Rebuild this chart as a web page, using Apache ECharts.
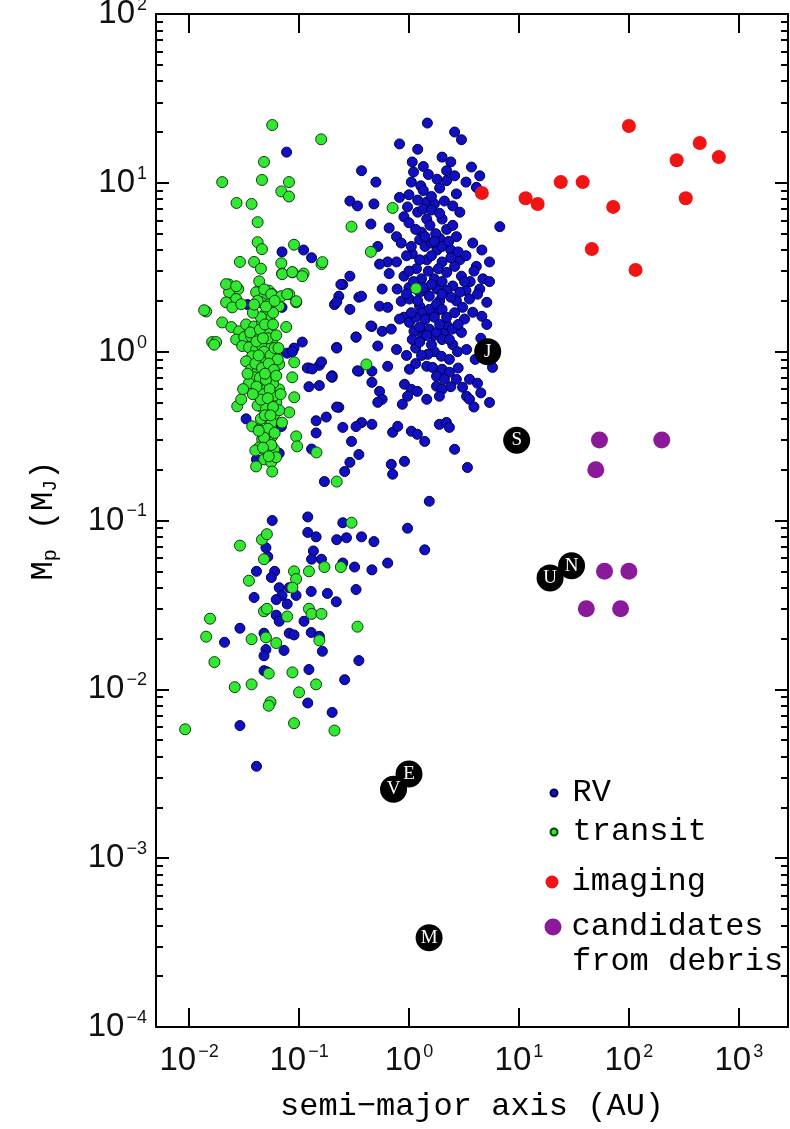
<!DOCTYPE html>
<html><head><meta charset="utf-8">
<script src="https://cdn.jsdelivr.net/npm/echarts@6/dist/echarts.min.js"></script>
<style>html,body{margin:0;padding:0;background:#fff}#c{width:790px;height:1129px}</style>
</head><body><div id="c"></div>
<script>
// ---- data: [semi-major axis (AU), planet mass (MJ)] ----
const rvData = [
[1.47,22.6],[2.6,20],[3.0,18],[0.82,17],[1.2,15.8],[0.37,11.8],[1.07,13.3],[1.1,11.6],[2.4,13.3],[2.2,11.8],[3.7,12.4],[4.4,11.0],[1.5,11.2],[1.8,10.5],[1.05,10.1],[1.28,9.6],[2.2,10.3],[3.3,10.1],[4.1,9.4],[0.5,10.1],[0.29,7.8],[0.34,7.3],[0.48,7.5],[0.82,8.2],[0.97,7.2],[1.45,7.7],[1.7,7.5],[2.1,7.8],[2.5,7.3],[2.9,6.7],[1.2,6.7],[0.9,6.3],[6.7,5.5],[0.66,5.4],[2.0,6.1],[2.2,5.3],[1.45,6.1],[1.3,5.1],[0.77,4.8],[0.85,4.4],[0.45,5.7],[0.52,4.2],[3.8,4.4],[4.6,4.0],[2.7,4.8],[1.9,4.7],[1.8,4.0],[1.07,3.8],[1.45,3.5],[0.64,3.4],[0.77,3.4],[2.9,3.5],[3.3,3.7],[4.1,3.2],[5.4,3.4],[0.54,3.3],[0.95,3.7],[0.25,2.5],[0.66,2.9],[0.9,2.8],[1.17,3.1],[1.5,3.0],[2.2,2.95],[4.7,2.7],[5.4,2.6],[0.35,2.1],[0.57,2.35],[0.78,2.35],[1.8,2.35],[2.5,2.45],[3.3,2.3],[4.4,2.35],
[1.2,7.9],[1.35,7.0],[1.6,6.9],[1.9,6.6],[1.55,5.6],[1.75,5.0],[1.25,4.6],[1.4,4.2],[1.6,4.4],[2.0,4.2],[2.4,4.0],[2.6,3.2],[2.0,3.4],[1.3,2.7],[1.7,2.7],[2.0,2.6],[3.0,2.8],[3.6,2.6],[3.9,3.0],
[1.0,5.8],[1.15,5.3],[1.4,4.8],[1.7,4.5],[2.3,4.5],[2.5,5.6],[1.05,4.2],[1.25,3.5],[1.6,3.7],[1.85,3.1],[2.4,3.6],[2.8,3.9],[1.0,3.0],[1.4,2.3],[1.9,2.0],[2.2,2.3],[2.7,2.0],[3.2,2.6],[1.0,2.4],[0.9,1.6],[1.3,1.35],[1.7,1.25],[2.1,1.3],[1.5,1.7],[1.8,1.75],[1.15,1.05],[1.7,1.0],[2.5,1.1],[1.0,8.5],[1.6,8.3],[2.7,8.6],[1.35,9.0],[1.9,9.3],[2.6,11],[1.35,12.5],[2.0,14.2],
[0.23,2.13],[0.37,2.13],[0.54,1.86],[0.64,1.83],[0.85,1.99],[1.01,2.05],[1.25,2.25],[1.53,2.13],[2.0,2.19],[2.4,2.1],[2.9,2.25],[3.55,2.05],[4.2,2.19],[1.25,1.86],[1.53,1.78],[1.78,1.91],[2.0,1.78],[3.07,1.83],[3.8,1.71],[5.1,1.96],[4.6,1.62],[0.46,1.41],[0.57,1.32],[0.69,1.36],[0.82,1.56],[1.01,1.49],[1.11,1.32],[1.33,1.23],[1.53,1.36],[1.78,1.30],[1.07,1.18],[1.25,1.14],[2.19,1.45],[2.48,1.36],[3.0,1.30],[2.0,1.18],[2.33,1.18],[3.2,1.56],[5.1,1.45],[0.33,1.22],[0.22,1.06],[0.52,1.08],[0.77,1.03],[1.48,0.964],[1.97,0.94],[2.33,0.90],[2.76,1.0],[3.34,1.03],[0.35,0.766],[0.46,0.766],[0.64,0.819],[1.01,0.787],[0.91,0.641],[1.05,0.598],[0.97,0.544],[0.87,0.488],[1.45,0.819],[1.64,0.807],[2.0,0.787],[2.33,0.755],[1.78,0.715],[2.1,0.686],[2.7,0.686],[3.55,0.686],[1.19,0.582],[1.45,0.522],[1.78,0.624],[2.0,0.598],[1.89,0.544],[3.07,0.615],[3.34,0.544],[3.55,0.522],[5.4,0.50],[5.75,0.807],[0.46,0.658],[0.54,0.582],[0.57,0.522],[0.52,0.501],[0.2,0.705],[0.23,0.468],[0.46,0.371],[0.71,0.333],[0.79,0.361],[1.05,0.338],[1.19,0.324],[1.39,0.294],[1.89,0.371],[2.19,0.381],[2.33,0.356],[0.25,0.356],[0.3,0.294],[0.35,0.246],[0.29,0.221],[0.26,0.195],[0.69,0.215],[0.71,0.188],[0.91,0.224],[2.6,0.264],[3.4,0.206],
[1.1,2.6],[1.2,2.0],[1.3,1.7],[1.4,1.55],[1.15,1.6],[1.35,2.4],[1.6,2.5],[1.7,1.6],[1.45,1.25],[1.25,1.4],[1.05,1.7],[0.95,2.2],[1.6,1.1],[1.9,1.45],[2.2,1.6],[2.6,1.7],[2.8,1.45],[1.3,0.95],[1.15,0.85],[0.95,0.95],[2.4,0.62],[2.8,0.8],[4.0,0.9],[4.5,1.2],[4.2,0.65],[3.9,0.47],[4.5,0.57],
[0.97,0.09],[1.39,0.067],[1.53,0.13],[0.17,0.17],
[0.077,15.2],[0.07,3.9],[0.11,4.0],[0.13,3.6],[0.24,2.5],[0.29,2.8],[0.21,1.9],[0.29,1.78],[0.45,1.42],[0.33,1.22],[0.22,1.05],[0.107,1.14],[0.09,1.05],[0.078,0.98],[0.123,0.8],[0.153,0.83],[0.2,0.72],[0.34,0.77],[0.123,0.62],[0.153,0.63],[0.22,0.47],[0.177,0.41],[0.143,0.39],[0.37,0.38],[0.33,0.36],
[0.07,1.83],[0.087,1.0],[0.16,0.87],[0.197,0.71],[0.143,0.33],[0.069,0.36],[0.033,0.40],[0.13,0.265],[0.066,0.25],[0.041,0.23],[0.22,1.97],[0.034,1.9],[0.119,0.8],[0.132,0.79],
[0.057,0.1],[0.12,0.105],[0.25,0.097],[0.12,0.085],[0.143,0.08],[0.22,0.077],[0.27,0.079],[0.37,0.08],[0.48,0.075],[0.64,0.056],[0.46,0.051],[0.32,0.053],[0.25,0.056],[0.16,0.059],[0.135,0.066],[0.13,0.059],[0.05,0.069],[0.052,0.061],[0.041,0.05],[0.06,0.05],[0.056,0.046],[0.066,0.04],[0.07,0.036],[0.062,0.034],[0.039,0.035],[0.0815,0.04],[0.094,0.036],[0.078,0.032],[0.129,0.038],[0.181,0.037],[0.218,0.033],[0.33,0.039],[0.062,0.0275],[0.066,0.0253],[0.0815,0.0215],[0.09,0.021],[0.029,0.023],[0.021,0.019],[0.048,0.0215],[0.05,0.0172],[0.048,0.0158],[0.073,0.017],[0.129,0.0217],[0.153,0.0206],[0.163,0.0168],[0.111,0.0253],[0.132,0.028],[0.35,0.0148],[0.048,0.0129],[0.051,0.0127],[0.123,0.0131],[0.26,0.0114],[0.12,0.0083],[0.2,0.0073],[0.029,0.0061],[0.041,0.0035]
];
const transitData = [
[0.057,22],[0.159,18.1],[0.048,13.3],[0.02,10.1],[0.046,10.4],[0.081,10.1],[0.069,8.9],[0.081,8.3],[0.027,7.6],[0.037,7.5],[0.042,5.85],[0.042,4.45],[0.046,4.05],[0.09,4.3],[0.029,3.4],[0.039,3.4],[0.045,3.1],[0.069,3.34],[0.16,3.3],[0.07,2.9],[0.087,2.95],[0.11,2.9],[0.023,2.5],[0.028,2.35],[0.043,2.3],[0.053,2.3],
[0.71,7.1],[0.3,5.5],[0.45,3.9],[1.16,2.37],[0.41,0.84],[0.22,0.17],
[0.0231,2.25],[0.0268,2.05],[0.0217,1.96],[0.0247,1.83],[0.0298,1.91],[0.0407,2.25],[0.0482,2.13],[0.057,2.19],[0.0453,1.96],[0.0535,1.91],[0.066,1.86],[0.0502,1.71],[0.0815,2.19],[0.0942,1.96],[0.02,1.49],[0.0242,1.40],[0.0285,1.32],[0.033,1.45],[0.0391,1.41],[0.0462,1.49],[0.0535,1.56],[0.0268,1.18],[0.0317,1.22],[0.0367,1.23],[0.0434,1.27],[0.0513,1.30],[0.057,1.14],[0.0162,1.14],[0.0304,1.08],[0.0351,1.06],[0.0407,1.03],[0.0462,1.08],[0.0558,1.06],[0.0619,0.964],[0.0502,0.964],[0.0375,0.94],[0.0434,0.90],[0.033,0.877],[0.0502,0.865],[0.057,0.819],[0.066,0.842],[0.0367,0.787],[0.0416,0.755],[0.0482,0.766],[0.0391,0.705],[0.0453,0.667],[0.0513,0.686],[0.0594,0.715],[0.0434,0.615],[0.0502,0.598],[0.057,0.624],[0.066,0.598],[0.0434,0.544],[0.0502,0.522],[0.0558,0.559],[0.0619,0.501],[0.0462,0.468],[0.0535,0.443],[0.0594,0.426],[0.0513,0.397],[0.0274,0.475],[0.0298,0.522],[0.0375,0.361],[0.0434,0.347],[0.0502,0.333],[0.057,0.315],[0.0462,0.303],[0.0535,0.29],[0.0434,0.271],[0.0502,0.253],[0.0594,0.264],[0.0482,0.23],[0.0558,0.221],[0.0619,0.237],[0.0407,0.209],[0.057,0.195],[0.0764,1.40],[0.0904,0.865],[0.0867,0.705],[0.0815,0.437],[0.0904,0.537],[0.0942,0.315],[0.096,0.275],[0.144,0.253],[0.0143,1.73],[0.0176,1.14],[0.0137,1.76],[0.0169,1.10],[0.0217,2.51],[0.0268,2.44],[0.0434,2.61],[0.0482,2.34],[0.0558,2.19],[0.0689,2.13],[0.078,2.19],[0.0942,1.99],[0.0703,2.88],[0.0867,2.96],[0.107,2.8],[0.163,3.39],
[0.045,1.6],[0.052,1.2],[0.048,1.0],[0.055,0.95],[0.04,0.85],[0.046,0.8],[0.053,0.72],[0.058,0.65],[0.044,0.7],[0.05,0.68],[0.047,0.56],[0.055,0.5],[0.06,0.55],[0.042,0.48],[0.05,0.46],[0.056,0.38],[0.045,0.4],[0.052,0.35],[0.06,0.33],[0.048,0.31],[0.036,1.3],[0.038,1.7],[0.058,1.7],[0.062,1.25],[0.064,0.9],[0.035,0.65],[0.031,0.6],[0.066,0.45],[0.07,0.38],[0.04,0.26],
[0.042,2.0],[0.05,1.85],[0.06,2.0],[0.044,1.35],[0.049,1.45],[0.058,1.45],[0.041,1.15],[0.047,1.2],[0.06,1.05],[0.043,0.95],[0.053,0.85],[0.059,0.78],[0.049,0.74],[0.041,0.62],[0.054,0.6],[0.062,0.72],[0.045,0.52],[0.052,0.53],[0.058,0.47],[0.049,0.42],[0.055,0.42],[0.043,0.34],[0.056,0.28],[0.047,0.27],[0.053,0.24],[0.038,0.56],[0.034,0.74],[0.068,0.56],[0.065,1.05],[0.039,1.9],
[0.029,0.071],[0.046,0.077],[0.051,0.083],[0.048,0.059],[0.3,0.097],[0.09,0.05],[0.094,0.045],[0.087,0.04],[0.123,0.05],[0.17,0.053],[0.24,0.053],[0.035,0.044],[0.123,0.03],[0.13,0.028],[0.16,0.028],[0.048,0.029],[0.051,0.03],[0.078,0.027],[0.0155,0.0262],[0.0143,0.0205],[0.037,0.0198],[0.050,0.0203],[0.062,0.0188],[0.153,0.0195],[0.34,0.0235],[0.017,0.0145],[0.053,0.0124],[0.087,0.0126],[0.026,0.0103],[0.037,0.0107],[0.143,0.0107],[0.1,0.0096],[0.055,0.0084],[0.053,0.008],[0.0092,0.0058],[0.09,0.0063],[0.21,0.0057]
];
const imagingData = [[4.6,8.7],[11.5,8.1],[14.8,7.5],[24,10.1],[38,10.1],[46,4.05],[72,7.2],[100,21.7],[115,3.05],[272,13.6],[329,8.1],[441,17.2],[658,14.2]];
const debrisData = [[54,0.3],[199,0.3],[50,0.2],[60,0.05],[100,0.05],[41,0.03],[84,0.03]];
const solarNames = ['V','E','M','J','S','U','N'];
const solarA = [0.723,1.0,1.524,5.2,9.54,19.2,30.1];
const solarM = [0.00256,0.00315,0.000338,1.0,0.299,0.0457,0.054];
const xTickValues = [0.01,0.1,1,10,100,1000];
const yTickValues = [0.0001,0.001,0.01,0.1,1,10,100];
const yMinorTickValues = [0.0002,0.0003,0.0004,0.0005,0.0006,0.0007,0.0008,0.0009,0.002,0.003,0.004,0.005,0.006,0.007,0.008,0.009,0.02,0.03,0.04,0.05,0.06,0.07,0.08,0.09,0.2,0.3,0.4,0.5,0.6,0.7,0.8,0.9,2,3,4,5,6,7,8,9,20,30,40,50,60,70,80,90];
const seriesNames = ['RV','transit','imaging','candidates from debris'];

const chart = echarts.init(document.getElementById('c'), null, {renderer:'canvas'});
function decadeLabel(v){
  const l = Math.log10(v), e = Math.round(l);
  if (Math.abs(l - e) > 1e-6) return '';
  return '{b|10}{s|' + (e < 0 ? '\u2212' + (-e) : String(e)) + '}';
}
const tickRich = {
  b:{fontFamily:'Liberation Sans', fontSize:33, lineHeight:36, color:'#111', verticalAlign:'middle'},
  s:{fontFamily:'Liberation Sans', fontSize:18, lineHeight:18, color:'#111', verticalAlign:'top', padding:[0,0,0,2]}
};
const axLine = {show:true, lineStyle:{color:'#000', width:2}};
const majorTickX = {show:true, inside:true, length:19, lineStyle:{color:'#000', width:2}};
const majorTickY = {show:true, inside:true, length:13, lineStyle:{color:'#000', width:2}};
const minorTickY = {show:true, inside:true, length:7, customValues:yMinorTickValues, lineStyle:{color:'#000', width:2}};
const titleFont = 'Liberation Mono';
const legendBase = {orient:'vertical', padding:0, selectedMode:false, itemGap:0,
  textStyle:{fontFamily:titleFont, fontSize:32, color:'#000', lineHeight:32}};

chart.setOption({
  animation:false,
  backgroundColor:'#fff',
  grid:{left:156, right:2, top:14, bottom:102, outerBoundsMode:'none'},
  xAxis:[
    {type:'log', logBase:10, min:0.005, max:2800, position:'bottom', splitLine:{show:false},
     axisLine:axLine, axisTick:Object.assign({customValues:xTickValues}, majorTickX),
     axisLabel:{customValues:xTickValues, margin:16, formatter:decadeLabel, rich:tickRich},
     name:'semi\u2212major axis (AU)', nameLocation:'middle', nameGap:80,
     nameTextStyle:{fontFamily:titleFont, fontSize:32, color:'#000', verticalAlign:'middle'}},
    {type:'log', logBase:10, min:0.005, max:2800, position:'top', splitLine:{show:false},
     axisLine:axLine, axisTick:Object.assign({customValues:xTickValues}, majorTickX), axisLabel:{show:false}}
  ],
  yAxis:[
    {type:'log', logBase:10, min:0.0001, max:100, position:'left', splitLine:{show:false},
     axisLine:axLine, axisTick:Object.assign({customValues:yTickValues}, majorTickY),
     axisLabel:{customValues:yTickValues, margin:9, formatter:decadeLabel, rich:tickRich},
     name:'{m|M}{sub|p}{m| (M}{sub|J}{m|)}', nameLocation:'middle', nameGap:112,
     nameTextStyle:{verticalAlign:'middle', rich:{
       m:{fontFamily:titleFont, fontSize:32, color:'#000', lineHeight:34, verticalAlign:'middle'},
       sub:{fontFamily:titleFont, fontSize:20, color:'#000', lineHeight:14, verticalAlign:'bottom'}}}},
    {type:'log', logBase:10, min:0.0001, max:100, position:'right', splitLine:{show:false},
     axisLine:axLine, axisTick:Object.assign({customValues:yTickValues}, majorTickY), axisLabel:{show:false}},
    {type:'log', logBase:10, min:0.0001, max:100, position:'left', splitLine:{show:false},
     axisLine:{show:false}, axisTick:minorTickY, axisLabel:{show:false}},
    {type:'log', logBase:10, min:0.0001, max:100, position:'right', splitLine:{show:false},
     axisLine:{show:false}, axisTick:minorTickY, axisLabel:{show:false}}
  ],
  legend:[
    Object.assign({}, legendBase, {left:549.5, top:777, itemWidth:7, itemHeight:7, data:[seriesNames[0]],
      textStyle:Object.assign({}, legendBase.textStyle, {padding:[0,0,0,10]})}),
    Object.assign({}, legendBase, {left:549.5, top:816, itemWidth:7, itemHeight:7, data:[seriesNames[1]],
      textStyle:Object.assign({}, legendBase.textStyle, {padding:[0,0,0,10]})}),
    Object.assign({}, legendBase, {left:545.5, top:866, itemWidth:13, itemHeight:13, data:[seriesNames[2]],
      textStyle:Object.assign({}, legendBase.textStyle, {padding:[0,0,0,8]})}),
    Object.assign({}, legendBase, {left:544.5, top:911, itemWidth:17, itemHeight:17, data:[seriesNames[3]],
      formatter:function(){return 'candidates';},
      textStyle:Object.assign({}, legendBase.textStyle, {padding:[0,0,0,5]})})
  ],
  graphic:[{type:'text', left:572, top:946, style:{text:'from debris', font:'32px "Liberation Mono"', fill:'#000'}}],
  series:[
    {name:seriesNames[0], type:'scatter', data:rvData, symbol:'circle', symbolSize:10,
     itemStyle:{color:'#1010c0', borderColor:'#000050', borderWidth:1, opacity:1}},
    {name:seriesNames[1], type:'scatter', data:transitData, symbol:'circle', symbolSize:11,
     itemStyle:{color:'#33e833', borderColor:'#0a400a', borderWidth:1, opacity:1}},
    {name:seriesNames[2], type:'scatter', data:imagingData, symbol:'circle', symbolSize:14,
     itemStyle:{color:'#f01414', opacity:1}},
    {name:seriesNames[3], type:'scatter', data:debrisData, symbol:'circle', symbolSize:17,
     itemStyle:{color:'#8a1a9a', opacity:1}},
    {name:'solar system', type:'scatter', symbol:'circle', symbolSize:27,
     data:solarNames.map((n,i)=>({name:n, value:[solarA[i], solarM[i]]})),
     itemStyle:{color:'#000', opacity:1},
     label:{show:true, position:'inside', formatter:'{b}', color:'#fff', fontFamily:'Liberation Serif', fontSize:19}}
  ]
});
</script></body></html>
